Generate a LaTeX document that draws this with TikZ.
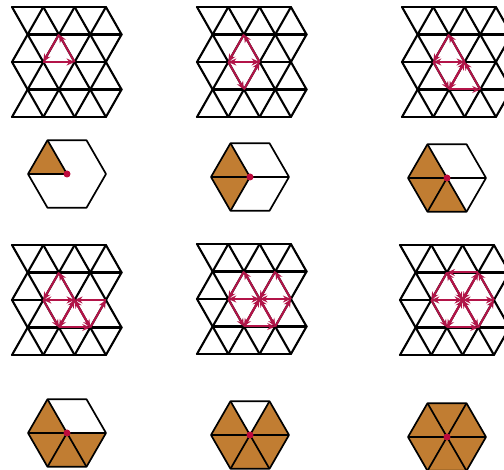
\documentclass[tikz,border=0pt]{standalone}
\usetikzlibrary{arrows.meta,calc}
\definecolor{arrred}{RGB}{178,20,72}
\definecolor{dotred}{RGB}{190,10,60}
\definecolor{brownc}{RGB}{193,125,50}
\tikzset{
  gridline/.style={line width=2.1pt,black,line cap=round,line join=round},
  hexline/.style={line width=1.7pt,black,line join=round},
  redarrow/.style={line width=2pt,arrred,-{Stealth[length=8pt,width=7pt]}},
  hexfill/.style={fill=brownc},
  centerdot/.style={circle,fill=dotred,inner sep=0pt,minimum size=7pt}
}
\newcommand\trigrid[3]{%
  \foreach \j in {0,...,4}{
    \foreach \i in {0,...,3}{
      \pgfmathsetmacro\xx{#2+31.3*\i+15.65*mod(\j,2)}
      \pgfmathsetmacro\yy{#3+27.5*\j}
      \coordinate (#1-\i-\j) at (\xx,\yy);
    }
  }
  \foreach \j in {0,...,4}{\draw[gridline] (#1-0-\j) -- (#1-3-\j);}
  \foreach \j in {0,2}{
    \pgfmathtruncatemacro\jj{\j+1}
    \foreach \i in {0,...,3}{\draw[gridline] (#1-\i-\j) -- (#1-\i-\jj);}
    \foreach \i in {0,1,2}{\pgfmathtruncatemacro\ii{\i+1}\draw[gridline] (#1-\i-\jj) -- (#1-\ii-\j);}
  }
  \foreach \j in {1,3}{
    \pgfmathtruncatemacro\jj{\j+1}
    \foreach \i in {0,...,3}{\draw[gridline] (#1-\i-\j) -- (#1-\i-\jj);}
    \foreach \i in {0,1,2}{\pgfmathtruncatemacro\ii{\i+1}\draw[gridline] (#1-\i-\j) -- (#1-\ii-\jj);}
  }
}
\newcommand\redfan[2]{%
  \foreach \a/\b [count=\k] in {1-1/1-2,1-2/1-3,1-3/2-3,2-3/3-2,3-2/2-1,2-1/1-1}{
    \ifnum\k>#2\relax\else
      \draw[redarrow] (#1-2-2) -- (#1-\a);
      \draw[redarrow] (#1-\a) -- (#1-\b);
      \draw[redarrow] (#1-\b) -- (#1-2-2);
    \fi
  }
}
\newcommand\hexfig[5]{%
  \coordinate (#1) at (#2,#3);
  \foreach \a in {0,60,...,300}{\coordinate (#1-\a) at ($(#1)+(\a:39pt)$);}
  \foreach \k in {1,...,#4}{
    \pgfmathtruncatemacro\aa{mod(60+60*\k,360)}
    \pgfmathtruncatemacro\bb{mod(120+60*\k,360)}
    \fill[hexfill] (#1) -- (#1-\aa) -- (#1-\bb) -- cycle;
  }
  \foreach \a in {#5}{\draw[hexline] (#1) -- (#1-\a);}
  \draw[hexline] (#1-0) -- (#1-60) -- (#1-120) -- (#1-180) -- (#1-240) -- (#1-300) -- cycle;
  \node[centerdot] (#1-dot) at (#1) {};
}
\begin{document}
\begin{tikzpicture}[x=1pt,y=-1pt]
\useasboundingbox (0,0) rectangle (504,470);
\trigrid{ga}{12}{7}
\trigrid{gb}{197}{7}
\trigrid{gc}{402}{7}
\trigrid{gd}{12}{245}
\trigrid{ge}{197}{244}
\trigrid{gf}{400}{245}
\redfan{ga}{1}
\redfan{gb}{2}
\redfan{gc}{3}
\redfan{gd}{4}
\redfan{ge}{5}
\redfan{gf}{6}
\hexfig{ha}{67}{174}{1}{120,180}
\hexfig{hb}{250}{177}{2}{120,180,240,0}
\hexfig{hc}{447}{178}{3}{120,180,240,300,0}
\hexfig{hd}{67}{433}{4}{120,180,240,300,0}
\hexfig{he}{250}{435}{5}{120,180,240,300,0,60}
\hexfig{hf}{447}{437}{6}{0,60,120,180,240,300}
\end{tikzpicture}
\end{document}
